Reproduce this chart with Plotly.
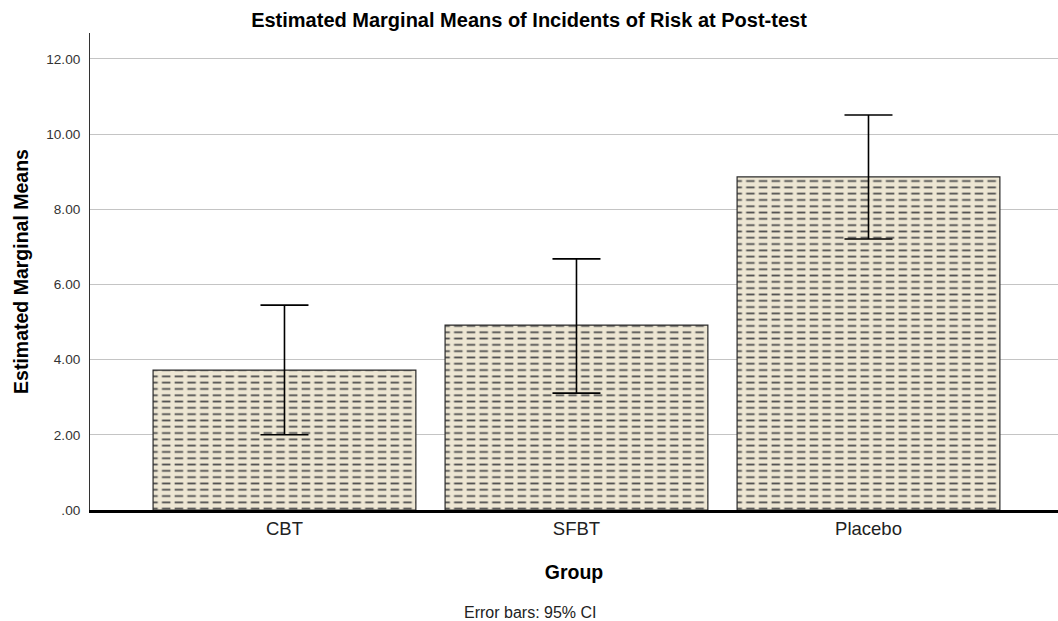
import plotly.graph_objects as go

groups = ["CBT", "SFBT", "Placebo"]
means = [3.72, 4.92, 8.86]
ci_upper = [5.45, 6.68, 10.51]
ci_lower = [2.00, 3.11, 7.21]
tick_vals = [0, 2, 4, 6, 8, 10, 12]
tick_text = [".00", "2.00", "4.00", "6.00", "8.00", "10.00", "12.00"]

err_plus = [u - m for u, m in zip(ci_upper, means)]
err_minus = [m - l for m, l in zip(means, ci_lower)]

BEIGE = "#EDE6D3"
FONT = "Liberation Sans, Arial, sans-serif"
BAR_W = 0.9

fig = go.Figure()
# base fill with horizontal dash rows
fig.add_trace(go.Bar(
    x=groups, y=means, width=BAR_W,
    marker=dict(color=BEIGE, line=dict(width=0),
                pattern=dict(shape="-", fgcolor="#505050", bgcolor=BEIGE,
                             size=6.3, solidity=0.28, fillmode="replace")),
    hoverinfo="skip", showlegend=False))
# vertical beige breaks turning lines into dashes
fig.add_trace(go.Bar(
    x=groups, y=means, width=BAR_W,
    marker=dict(color="rgba(0,0,0,0)", line=dict(width=0),
                pattern=dict(shape="|", fgcolor=BEIGE, bgcolor="rgba(0,0,0,0)",
                             size=12.7, solidity=0.33, fillmode="replace")),
    hoverinfo="skip", showlegend=False))
# outline + error bars
fig.add_trace(go.Bar(
    x=groups, y=means, width=BAR_W,
    marker=dict(color="rgba(0,0,0,0)", line=dict(color="#2B2B2B", width=1.2)),
    error_y=dict(type="data", symmetric=False, array=err_plus, arrayminus=err_minus,
                 color="black", thickness=1.6, width=24),
    showlegend=False))

fig.update_layout(
    width=1058, height=621,
    barmode="overlay",
    paper_bgcolor="white", plot_bgcolor="white",
    margin=dict(l=90, r=0, t=33, b=111),
    font=dict(family=FONT, color="#222222"),
    title=dict(text="<b>Estimated Marginal Means of Incidents of Risk at Post-test</b>",
               x=0.5, xanchor="center", y=1 - 20 / 621, yanchor="middle",
               font=dict(size=20, color="black", family=FONT)),
    xaxis=dict(range=[-0.666, 2.649], showgrid=False, ticks="",
               showline=True, linecolor="black", linewidth=3,
               tickfont=dict(size=18.5, color="#222222"),
               title=dict(text="<b>Group</b>", font=dict(size=19.5, color="black"), standoff=28),
               zeroline=False),
    yaxis=dict(range=[0, 12.69], tickvals=tick_vals, ticktext=tick_text,
               showgrid=True, gridcolor="#C4C4C4", gridwidth=1,
               showline=True, linecolor="#333333", linewidth=1,
               ticks="", ticklabelstandoff=6,
               tickfont=dict(size=13.6, color="#333333"),
               title=dict(text="<b>Estimated Marginal Means</b>",
                          font=dict(size=19.5, color="black"), standoff=12),
               zeroline=False),
    annotations=[dict(text="Error bars: 95% CI", xref="paper", yref="paper",
                      x=(530 - 90) / 968, y=(510 - 612) / 477,
                      xanchor="center", yanchor="middle", showarrow=False,
                      font=dict(size=16, color="#222222", family=FONT))],
)

fig.write_html("out.html")
